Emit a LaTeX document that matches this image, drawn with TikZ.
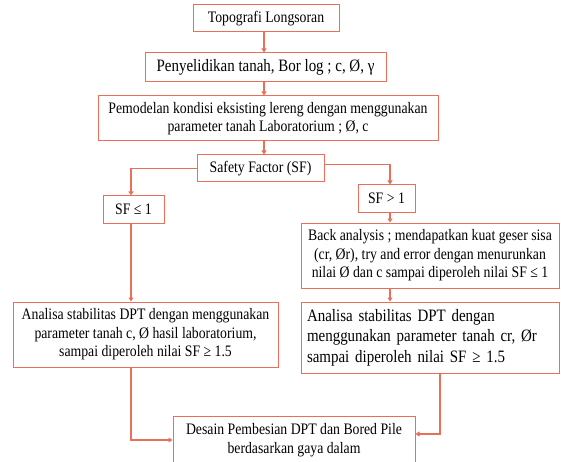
\documentclass[tikz,border=0pt]{standalone}
\usepackage{fontspec}
\setmainfont[FakeStretch=0.86]{Liberation Serif}
\usetikzlibrary{arrows.meta}
\definecolor{coral}{RGB}{232,112,90}
\begin{document}
\begin{tikzpicture}[x=1pt,y=-1pt,
  box/.style={draw=coral, line width=1pt, inner sep=0pt, align=center, fill=white,
    font=\fontsize{16}{18.5}\selectfont},
  bigbox/.style={box, font=\fontsize{17.4}{20.5}\selectfont},
  conn/.style={draw=coral, line width=1.5pt, -{Triangle[length=4pt,width=5pt]}}]
\useasboundingbox (0,0) rectangle (561,462);
\coordinate (ax) at (264,0);
\coordinate (lx) at (131,0);
\coordinate (rx) at (390,0);
\coordinate (rx2) at (440,0);
\node[box, minimum width=146pt, minimum height=27pt] (b1) at (266,18.5) {Topografi Longsoran};
\node[bigbox, minimum width=241pt, minimum height=29pt] (b2) at (265.5,67.5) {Penyelidikan tanah, Bor log ; c, Ø, γ};
\node[box, minimum width=340pt, minimum height=45pt] (b3) at (268,118.5) {Pemodelan kondisi eksisting lereng dengan menggunakan\\parameter tanah Laboratorium ; Ø, c};
\node[box, minimum width=127pt, minimum height=27pt] (sf) at (260.5,168.5) {Safety Factor (SF)};
\node[box, minimum width=61pt, minimum height=27pt] (sfle) at (133.5,209.5) {SF ≤ 1};
\node[box, minimum width=57pt, minimum height=27pt] (sfgt) at (386.5,198.5) {SF > 1};
\node[box, minimum width=258pt, minimum height=65pt] (back) at (430,255.5) {Back analysis ; mendapatkan kuat geser sisa\\(cr, Ør), try and error dengan menurunkan\\nilai Ø dan c sampai diperoleh nilai SF ≤ 1};
\node[box, minimum width=265pt, minimum height=65pt] (la) at (145.5,334.5) {Analisa stabilitas DPT dengan menggunakan\\parameter tanah c, Ø hasil laboratorium,\\sampai diperoleh nilai SF ≥ 1.5};
\node[bigbox, align=left, text width=246pt, minimum width=258pt, minimum height=71pt] (ra) at (430,337.5) {Analisa stabilitas DPT dengan\\menggunakan parameter tanah cr, Ør\\sampai diperoleh nilai SF ≥ 1.5};
\node[box, minimum width=242pt, minimum height=48pt] (des) at (294,440) {Desain Pembesian DPT dan Bored Pile\\berdasarkan gaya dalam};
\draw[conn] (b1.south -| ax) -- (b2.north -| ax);
\draw[conn] (b2.south -| ax) -- (b3.north -| ax);
\draw[conn] (b3.south -| ax) -- (sf.north -| ax);
\draw[conn] (sf.west) -| (sfle.north -| lx);
\draw[conn] ([yshift=4pt]sf.east) -| (sfgt.north -| rx);
\draw[conn] (sfgt.south -| rx) -- (back.north -| rx);
\draw[conn] (back.south -| rx) -- (ra.north -| rx);
\draw[conn] (sfle.south -| lx) -- (la.north -| lx);
\draw[conn] (la.south -| lx) |- (des.west);
\draw[conn] (ra.south -| rx2) |- ([yshift=6pt]des.east);
\end{tikzpicture}
\end{document}
